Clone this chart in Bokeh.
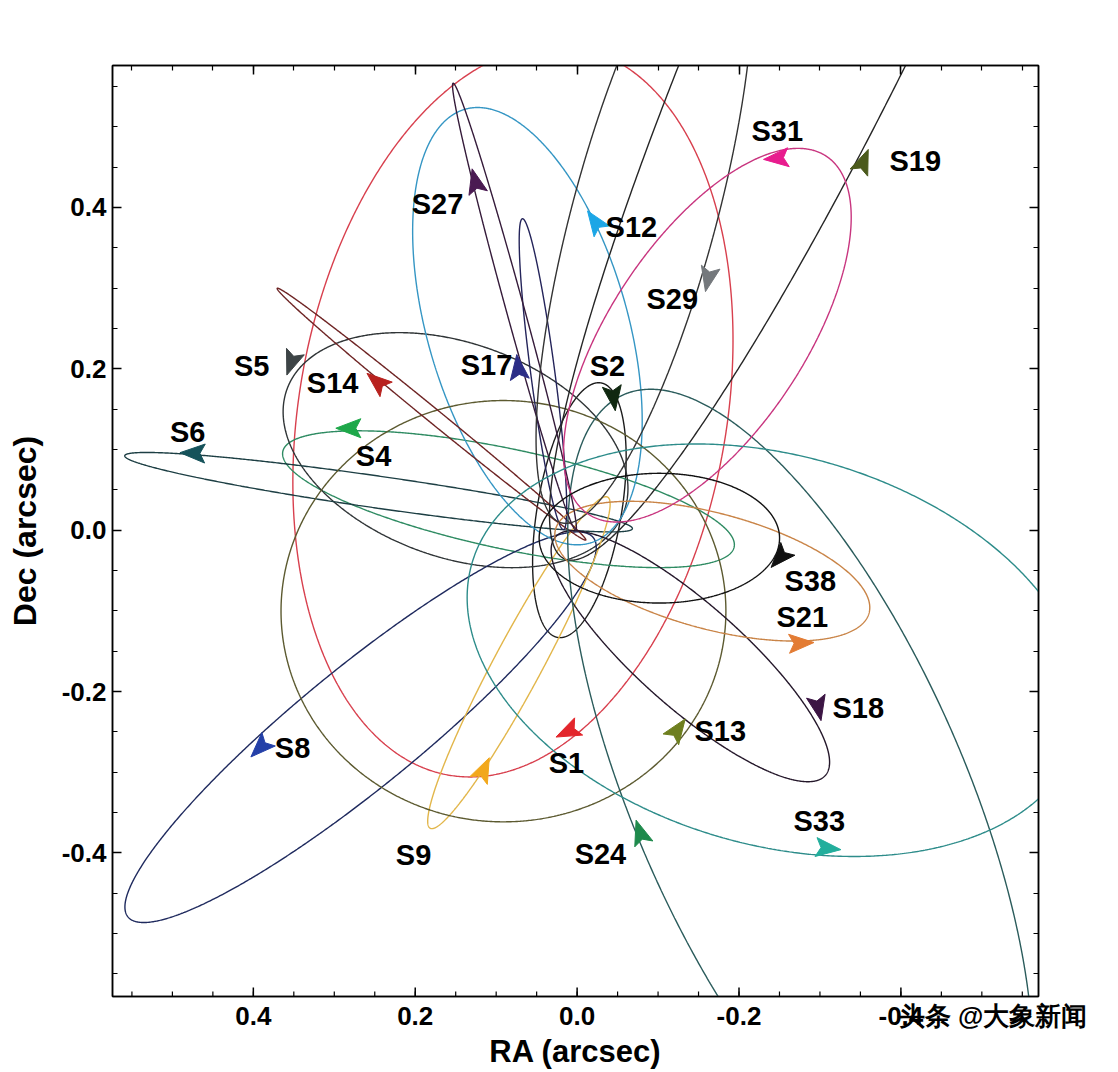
import numpy as np
from bokeh.plotting import figure
from bokeh.models import Range1d, FixedTicker, LinearAxis, Label, ColumnDataSource, AllLabels
from bokeh.embed import file_html
from bokeh.resources import INLINE

# ---------------- data (arcsec) ----------------
STARS = ["S1", "S2", "S4", "S5", "S6", "S8", "S9", "S12", "S13", "S14",
         "S17", "S18", "S19", "S21", "S24", "S27", "S29", "S31", "S33", "S38"]

# projected orbit ellipses: centre, semi-axes, tilt of major axis (deg, on the image, ccw)
ORBIT_RA = [0.0793, -0.0028, 0.0848, 0.1502, 0.2453, 0.2675, 0.0719, 0.0614, 0.0910, 0.1799,
            0.0422, -0.1399, -0.3794, -0.1670, -0.2757, 0.0774, -0.0831, -0.1609, -0.2448, -0.1016]
ORBIT_DEC = [0.1475, 0.0248, 0.0384, 0.0992, 0.0471, -0.2442, -0.1642, 0.2529, -0.1004, 0.1438,
             0.1934, -0.1562, 0.8318, -0.0508, -0.3310, 0.2771, 0.3917, 0.2417, -0.1488, -0.0099]
SEMI_MAJOR = [0.458, 0.160, 0.285, 0.2215, 0.3168, 0.3713, 0.2327, 0.2797, 0.2748, 0.2463,
              0.1943, 0.2228, 0.953, 0.2005, 0.5446, 0.2871, 0.396, 0.2661, 0.3899, 0.1485]
SEMI_MINOR = [0.264, 0.052, 0.062, 0.1324, 0.0198, 0.0743, 0.0297, 0.1238, 0.2611, 0.0087,
              0.0149, 0.0644, 0.1337, 0.0718, 0.2042, 0.0111, 0.0891, 0.1200, 0.2413, 0.0804]
TILT_DEG = [80, 80.4, -12, -20, -8.2, 39.3, 61.9, 106, 0, -39.3,
            97.5, -41.6, 65.5, -15, -66.4, 105.3, 75, 56.5, -16, 0]

# direction arrows on the orbits (position and heading on the image, deg ccw from +x of the image)
ARROW_RA = [0.0107, -0.0448, 0.2811, 0.3528, 0.4737, 0.3910, 0.1157, -0.0226, -0.1238, 0.2466,
            0.0725, -0.2978, -0.3533, -0.2757, -0.0781, 0.1256, -0.1621, -0.2472, -0.3090, -0.2510]
ARROW_DEC = [-0.2492, 0.1649, 0.1264, 0.2083, 0.0955, -0.2690, -0.2975, 0.3818, -0.2479, 0.1835,
             0.2008, -0.2194, 0.4562, -0.1401, -0.3756, 0.4314, 0.3124, 0.4611, -0.3942, -0.0335]
ARROW_DIR_DEG = [205, 278, 180, 250, 178, 225, 65, 125, 55, 140,
                 97, 282, 68, 3, 108, 104, 258, 185, -6, 228]

# star name labels (centre of each name)
LABEL_RA = [0.0132, -0.0374, 0.2515, 0.4021, 0.4811, 0.3515, 0.2021, -0.0670, -0.1769, 0.3021,
            0.1120, -0.3473, -0.4177, -0.2782, -0.0288, 0.1725, -0.1176, -0.2472, -0.2991, -0.2880]
LABEL_DEC = [-0.2888, 0.2033, 0.0917, 0.2033, 0.1215, -0.2702, -0.4029, 0.3756, -0.2492, 0.1822,
             0.2045, -0.2207, 0.4574, -0.1078, -0.4016, 0.4041, 0.2864, 0.4946, -0.3607, -0.0632]

LINE_COLORS = ["#d8404e", "#1c1c1c", "#2e8b62", "#2f3436", "#1d3f44", "#1f2a5e", "#e2b64a",
               "#3596c4", "#5c5a30", "#6e2424", "#24245a", "#24172a", "#262626", "#c98447",
               "#2b5c5c", "#351b3a", "#333333", "#c8357f", "#2d8c8a", "#111111"]
ARROW_COLORS = ["#e3262c", "#102810", "#1ea84a", "#3d4446", "#15525a", "#2440a8", "#f2a81c",
                "#1ca6e6", "#6e7f1f", "#b8221f", "#2b2d86", "#3c1544", "#4b5a1c", "#e37c34",
                "#1e8a4c", "#4a1a52", "#74787c", "#e81c8e", "#22ae9c", "#111111"]

MAJOR_TICKS = [-0.4, -0.2, 0.0, 0.2, 0.4]
MINOR_TICKS = [round(-0.55 + 0.05 * i, 2) for i in range(23)]
TICK_LABELS = {-0.4: "-0.4", -0.2: "-0.2", 0: "0.0", 0.2: "0.2", 0.4: "0.4"}

X_RANGE = (0.574, -0.570)
Y_RANGE = (-0.578, 0.576)

WATERMARK = "头条 @大象新闻"
WATERMARK_RA = -0.514

# ---------------- figure ----------------
W, H = 1110, 1072
BL, BR, BT, BB = 112, 72, 65, 76
p = figure(width=W, height=H,
           x_range=Range1d(*X_RANGE), y_range=Range1d(*Y_RANGE),
           output_backend="svg", toolbar_location=None,
           min_border_left=BL, min_border_right=BR, min_border_top=BT, min_border_bottom=BB)
p.grid.visible = False
p.outline_line_color = "black"
p.outline_line_width = 1.5
p.background_fill_color = "white"

ticker = FixedTicker(ticks=MAJOR_TICKS, minor_ticks=MINOR_TICKS)


def style_axis(ax, show_labels, tick_marks=True):
    ax.ticker = ticker
    ax.major_tick_in = 9 if tick_marks else 0
    ax.major_tick_out = 0
    ax.minor_tick_in = 5 if tick_marks else 0
    ax.minor_tick_out = 0
    ax.axis_line_width = 1.5
    ax.major_tick_line_width = 1.5
    ax.minor_tick_line_width = 1.2
    ax.axis_line_color = "black"
    if show_labels:
        ax.major_label_overrides = TICK_LABELS
        ax.major_label_text_font = "Liberation Sans"
        ax.major_label_text_font_style = "bold"
        ax.major_label_text_font_size = "26px"
        ax.major_label_text_color = "black"
        ax.axis_label_text_font = "Liberation Sans"
        ax.axis_label_text_font_style = "bold"
        ax.axis_label_text_font_size = "31px"
        ax.axis_label_text_color = "black"
    else:
        ax.major_label_text_color = None


p.xaxis.axis_label = "RA (arcsec)"
p.yaxis.axis_label = "Dec (arcsec)"
style_axis(p.xaxis[0], True, tick_marks=False)
style_axis(p.yaxis[0], True)
p.yaxis.axis_label_text_font_size = "32px"
p.xaxis.major_label_standoff = 4
p.xaxis.axis_label_standoff = 0
p.yaxis.major_label_standoff = 6
p.yaxis.axis_label_standoff = 16

# the bottom axis also carries the watermark as an extra label; its tick marks are drawn below
p.xaxis[0].ticker = FixedTicker(ticks=MAJOR_TICKS + [WATERMARK_RA], minor_ticks=[])
p.xaxis[0].major_label_overrides = {**TICK_LABELS, WATERMARK_RA: WATERMARK}
p.xaxis[0].major_label_policy = AllLabels()

top_ax = LinearAxis()
style_axis(top_ax, False)
right_ax = LinearAxis()
style_axis(right_ax, False)
p.add_layout(top_ax, "above")
p.add_layout(right_ax, "right")

# pixel size of one arcsec on the frame (for arrowhead shapes and tick marks)
px_x = (W - BL - BR) / abs(X_RANGE[1] - X_RANGE[0])
px_y = (H - BT - BB) / abs(Y_RANGE[1] - Y_RANGE[0])

# bottom tick marks (inside the frame)
p.segment(x0=MINOR_TICKS, y0=[Y_RANGE[0]] * len(MINOR_TICKS),
          x1=MINOR_TICKS, y1=[Y_RANGE[0] + 5 / px_y] * len(MINOR_TICKS),
          line_color="black", line_width=1.2)
p.segment(x0=MAJOR_TICKS, y0=[Y_RANGE[0]] * len(MAJOR_TICKS),
          x1=MAJOR_TICKS, y1=[Y_RANGE[0] + 9 / px_y] * len(MAJOR_TICKS),
          line_color="black", line_width=1.5)

# ---------------- orbits ----------------
t = np.linspace(0, 2 * np.pi, 900)
xs, ys = [], []
for cx, cy, a, b, tilt in zip(ORBIT_RA, ORBIT_DEC, SEMI_MAJOR, SEMI_MINOR, TILT_DEG):
    ph = np.radians(tilt)
    u = a * np.cos(t)
    v = b * np.sin(t)
    right = u * np.cos(ph) - v * np.sin(ph)   # toward the right of the image (RA decreasing)
    up = u * np.sin(ph) + v * np.cos(ph)
    xs.append(cx - right)
    ys.append(cy + up)

orbit_src = ColumnDataSource(dict(xs=xs, ys=ys, color=LINE_COLORS))
p.multi_line(xs="xs", ys="ys", line_color="color", line_width=1.4, source=orbit_src)

# ---------------- arrowheads ----------------
L_PX, HW_PX, NOTCH_PX = 25.0, 9.5, 5.0
ax_list, ay_list = [], []
for x0, y0, d in zip(ARROW_RA, ARROW_DEC, ARROW_DIR_DEG):
    c, s = np.cos(np.radians(d)), np.sin(np.radians(d))

    def pt(along, across):
        r = along * c - across * s
        u = along * s + across * c
        return x0 - r / px_x, y0 + u / px_y

    tip = pt(0.55 * L_PX, 0)
    c1 = pt(-0.45 * L_PX, HW_PX)
    nt = pt(-0.45 * L_PX + NOTCH_PX, 0)
    c2 = pt(-0.45 * L_PX, -HW_PX)
    ax_list.append([tip[0], c1[0], nt[0], c2[0]])
    ay_list.append([tip[1], c1[1], nt[1], c2[1]])

arrow_src = ColumnDataSource(dict(xs=ax_list, ys=ay_list, color=ARROW_COLORS))
p.patches(xs="xs", ys="ys", fill_color="color", line_color="color", line_width=1,
          source=arrow_src)

# ---------------- labels ----------------
for name, lx, ly in zip(STARS, LABEL_RA, LABEL_DEC):
    p.add_layout(Label(x=lx, y=ly, text=name,
                       text_font="Liberation Sans", text_font_style="bold",
                       text_font_size="29px", text_color="black",
                       text_align="center", text_baseline="middle"))

open("out.html", "w").write(file_html(p, INLINE))
